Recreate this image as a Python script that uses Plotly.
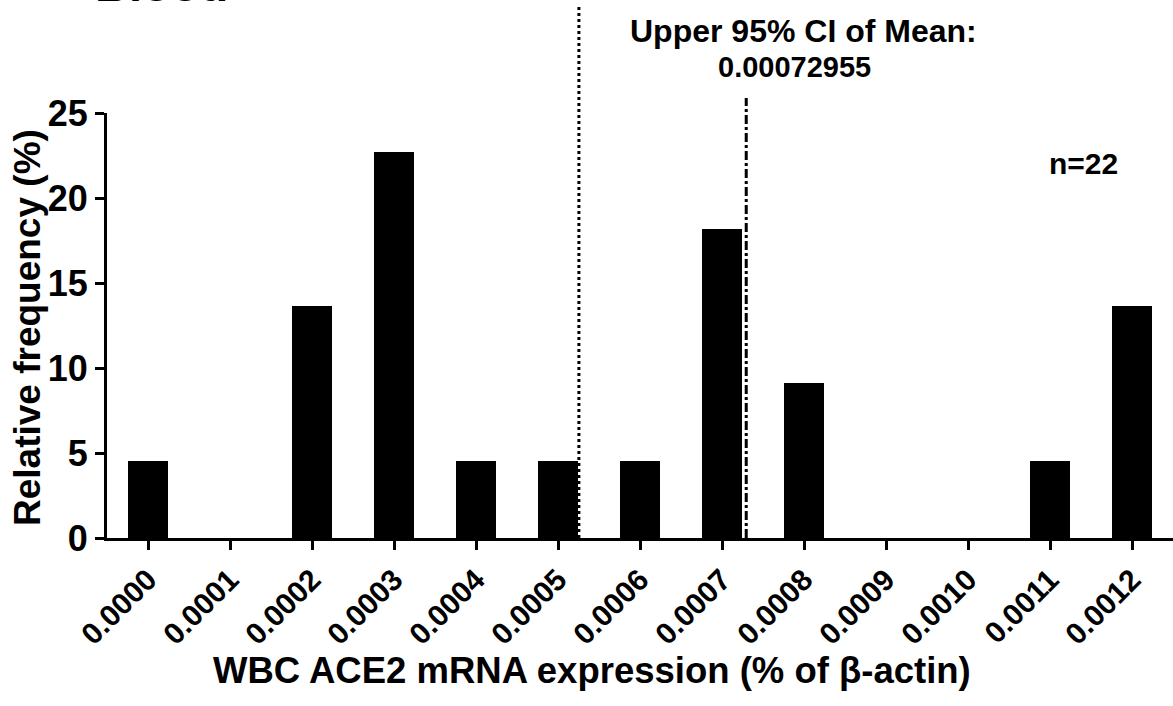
import plotly.graph_objects as go

# bin centres (% of beta-actin) and relative frequency (%)
bin_centers = [0.0000, 0.0001, 0.0002, 0.0003, 0.0004, 0.0005, 0.0006,
               0.0007, 0.0008, 0.0009, 0.0010, 0.0011, 0.0012]
rel_freq = [4.545, 0, 13.636, 22.727, 4.545, 4.545, 4.545,
            18.182, 9.091, 0, 0, 4.545, 13.636]
tick_text = ["0.0000", "0.0001", "0.0002", "0.0003", "0.0004", "0.0005", "0.0006",
             "0.0007", "0.0008", "0.0009", "0.0010", "0.0011", "0.0012"]
y_ticks = [0, 5, 10, 15, 20, 25]
mean_value = 0.0005255
upper_ci = 0.00072955
n_total = 22

FONT = "Liberation Sans, Arial, Helvetica, sans-serif"
W, H = 1173, 706
L, R, T, B = 107, 0, 113, 168


def px(x):  # page pixel -> paper x
    return (x - L) / (W - L - R)


def py(y):  # page pixel -> paper y
    return (H - B - y) / (H - T - B)


def bold(size):
    return dict(family=FONT, size=size, color="black", weight="bold")


fig = go.Figure()
fig.add_trace(go.Bar(x=bin_centers, y=rel_freq, width=0.000049,
                     marker=dict(color="black", line=dict(width=0)),
                     showlegend=False, hoverinfo="skip"))

# mean line (dotted) and upper CI line (dash-dot)
fig.add_shape(type="line", xref="x", yref="paper", x0=mean_value, x1=mean_value,
              y0=0, y1=py(5), line=dict(color="black", width=3, dash="dot"))
fig.add_shape(type="line", xref="x", yref="paper", x0=upper_ci, x1=upper_ci,
              y0=0, y1=py(98), line=dict(color="black", width=3, dash="dashdot"))

fig.add_annotation(x=px(803), y=py(31), text="Upper 95% CI of Mean:", font=bold(32))
fig.add_annotation(x=px(794), y=py(67), text=f"{upper_ci:.8f}", font=bold(29))
fig.add_annotation(x=px(1083), y=py(163), text=f"n={n_total}", font=bold(30))
fig.add_annotation(x=px(161), y=py(-15), text="Blood", font=bold(47))
fig.add_annotation(x=px(592), y=py(670), text="WBC ACE2 mRNA expression (% of β-actin)",
                   font=bold(36.5))
fig.add_annotation(x=px(27), y=py(328), text="Relative frequency (%)", textangle=-90,
                   font=bold(37))
fig.update_annotations(xref="paper", yref="paper", showarrow=False,
                       xanchor="center", yanchor="middle")

fig.update_layout(
    width=W, height=H,
    margin=dict(l=L, r=R, t=T, b=B),
    plot_bgcolor="white", paper_bgcolor="white",
    bargap=0,
)
fig.update_xaxes(
    range=[-0.00005, 0.00125],
    tickvals=bin_centers, ticktext=tick_text, tickangle=-45,
    showline=True, linecolor="black", linewidth=3,
    ticks="outside", ticklen=9, tickwidth=3, tickcolor="black",
    showgrid=False, zeroline=False,
    tickfont=bold(30),
)
fig.update_yaxes(
    range=[0, 25], tickvals=y_ticks,
    showline=True, linecolor="black", linewidth=3,
    ticks="outside", ticklen=9, tickwidth=3, tickcolor="black",
    showgrid=False, zeroline=False,
    tickfont=bold(36),
)

fig.write_html("out.html", config={"displayModeBar": False},
               post_script="document.body.style.margin='0';")
